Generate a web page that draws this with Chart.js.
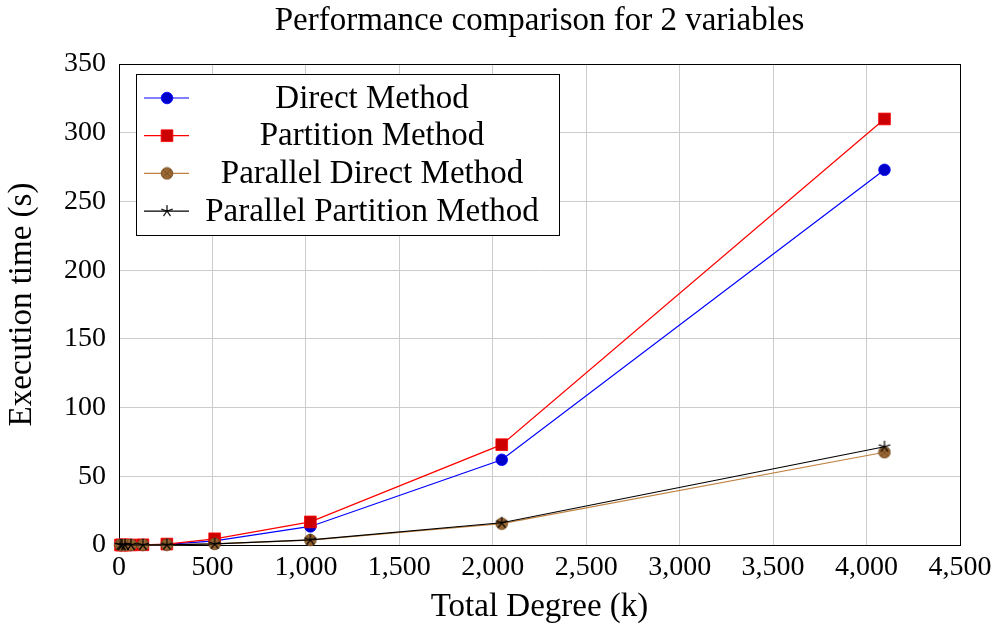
<!DOCTYPE html>
<html>
<head>
<meta charset="utf-8">
<title>Performance comparison for 2 variables</title>
<script src="https://cdn.jsdelivr.net/npm/chart.js@4/dist/chart.umd.min.js"></script>
<style>
  body { margin: 0; background: #fff; }
  #wrap { width: 998px; height: 627px; }
</style>
</head>
<body>
<div id="wrap"><canvas id="myChart" width="998" height="627"></canvas></div>
<script>
// total degree k
const degrees = [8, 16, 32, 64, 128, 256, 512, 1024, 2048, 4096];
// execution times in seconds
const directTimes = [0, 0, 0.01, 0.03, 0.1, 0.5, 3, 13.5, 62, 273];
const partitionTimes = [0, 0, 0.01, 0.04, 0.15, 0.7, 4.5, 16.8, 73, 310];
const parallelDirectTimes = [0, 0, 0, 0.01, 0.03, 0.15, 0.8, 3.6, 15.5, 67.5];
const parallelPartitionTimes = [0, 0, 0, 0.01, 0.03, 0.15, 0.8, 3.8, 16.2, 71.5];
const seriesNames = ['Direct Method', 'Partition Method', 'Parallel Direct Method', 'Parallel Partition Method'];
const chartTitle = 'Performance comparison for 2 variables';

const FONT = '"Liberation Serif", "DejaVu Serif", serif';
const TEXT_SIZE = 33;

// circle with an x through it, brown fill
function otimesMarker() {
    const c = document.createElement('canvas');
    c.width = 14; c.height = 14;
    const g = c.getContext('2d');
    g.beginPath();
    g.arc(7, 7, 5.8, 0, Math.PI * 2);
    g.fillStyle = '#996633';
    g.fill();
    g.lineWidth = 1;
    g.strokeStyle = '#7a5226';
    g.stroke();
    g.beginPath();
    const d = 5.8 * Math.SQRT1_2;
    g.moveTo(7 - d, 7 - d); g.lineTo(7 + d, 7 + d);
    g.moveTo(7 + d, 7 - d); g.lineTo(7 - d, 7 + d);
    g.stroke();
    return c;
}

// five armed asterisk
function starMarker() {
    const c = document.createElement('canvas');
    c.width = 14; c.height = 14;
    const g = c.getContext('2d');
    g.strokeStyle = '#000';
    g.lineWidth = 1.2;
    g.beginPath();
    for (let i = 0; i < 5; i++) {
        const a = -Math.PI / 2 + i * 2 * Math.PI / 5;
        g.moveTo(7, 7);
        g.lineTo(7 + 6 * Math.cos(a), 7 + 6 * Math.sin(a));
    }
    g.stroke();
    return c;
}

function toPoints(ys) {
    return degrees.map((x, i) => ({x: x, y: ys[i]}));
}

// frame around the plot area, title centred over it
const framePlugin = {
    id: 'frame',
    beforeDatasetsDraw(chart) {
        const {ctx, chartArea: a} = chart;
        ctx.save();
        ctx.strokeStyle = '#000';
        ctx.lineWidth = 1;
        ctx.strokeRect(Math.round(a.left) + 0.5, Math.round(a.top) + 0.5,
            Math.round(a.right - a.left), Math.round(a.bottom - a.top));
        ctx.fillStyle = '#000';
        ctx.font = TEXT_SIZE + 'px ' + FONT;
        ctx.textAlign = 'center';
        ctx.textBaseline = 'middle';
        ctx.fillText(chartTitle, (a.left + a.right) / 2, 21);
        ctx.restore();
    }
};

// boxed legend with line + marker samples
const boxLegend = {
    id: 'boxLegend',
    afterDraw(chart) {
        const {ctx, chartArea: a} = chart;
        const left = a.left + 17, top = a.top + 10;
        const w = 423, rowH = 37.7, h = 161;
        ctx.save();
        ctx.fillStyle = '#fff';
        ctx.fillRect(left, top, w, h);
        ctx.strokeStyle = '#000';
        ctx.lineWidth = 1;
        ctx.strokeRect(Math.round(left) + 0.5, Math.round(top) + 0.5, w, h);
        ctx.font = TEXT_SIZE + 'px ' + FONT;
        ctx.textAlign = 'center';
        ctx.textBaseline = 'middle';
        chart.data.datasets.forEach((ds, i) => {
            const y = top + 24 + i * rowH;
            ctx.strokeStyle = ds.borderColor;
            ctx.lineWidth = ds.borderWidth;
            ctx.beginPath();
            ctx.moveTo(left + 8, y);
            ctx.lineTo(left + 53, y);
            ctx.stroke();
            if (typeof ds.pointStyle === 'string') {
                ctx.fillStyle = ds.pointBackgroundColor;
                ctx.strokeStyle = ds.pointBorderColor;
                ctx.lineWidth = ds.pointBorderWidth;
            }
            Chart.helpers.drawPoint(ctx, {
                pointStyle: ds.pointStyle,
                radius: ds.pointRadius,
                borderWidth: ds.pointBorderWidth || 0,
                rotation: 0
            }, left + 31, y);
            ctx.fillStyle = '#000';
            ctx.fillText(ds.label, left + 236, y + 1);
        });
        ctx.restore();
    }
};

const ctx = document.getElementById('myChart').getContext('2d');
const chart = new Chart(ctx, {
    type: 'line',
    data: {
        datasets: [
            {
                label: seriesNames[0],
                data: toPoints(directTimes),
                borderColor: '#0000ff',
                borderWidth: 1.2,
                pointStyle: 'circle',
                pointRadius: 5.8,
                pointBackgroundColor: '#0000cc',
                pointBorderColor: '#0000ff',
                pointBorderWidth: 0.8,
                clip: false,
                order: 4
            },
            {
                label: seriesNames[1],
                data: toPoints(partitionTimes),
                borderColor: '#ff0000',
                borderWidth: 1.2,
                pointStyle: 'rect',
                pointRadius: 8.3,
                pointBackgroundColor: '#cc0000',
                pointBorderColor: '#ff0000',
                pointBorderWidth: 0.8,
                clip: false,
                order: 3
            },
            {
                label: seriesNames[2],
                data: toPoints(parallelDirectTimes),
                borderColor: '#bf8040',
                borderWidth: 1.2,
                pointStyle: otimesMarker(),
                pointRadius: 6,
                clip: false,
                order: 2
            },
            {
                label: seriesNames[3],
                data: toPoints(parallelPartitionTimes),
                borderColor: '#000000',
                borderWidth: 1.2,
                pointStyle: starMarker(),
                pointRadius: 6,
                clip: false,
                order: 1
            }
        ]
    },
    options: {
        responsive: false,
        animation: false,
        layout: { padding: { left: 0, right: 38, top: 64, bottom: 0 } },
        plugins: {
            legend: { display: false },
            tooltip: { enabled: false },
            title: { display: false }
        },
        scales: {
            x: {
                type: 'linear',
                min: 0,
                max: 4500,
                border: { display: false },
                grid: { color: '#cccccc', lineWidth: 1, drawTicks: false },
                ticks: {
                    stepSize: 500,
                    color: '#000',
                    padding: 6,
                    maxRotation: 0,
                    font: { family: FONT, size: 28 },
                    callback: (v) => v.toLocaleString('en-US')
                },
                title: {
                    display: true,
                    text: 'Total Degree (k)',
                    color: '#000',
                    font: { family: FONT, size: TEXT_SIZE },
                    padding: { top: 0, bottom: 0 }
                },
                afterFit(scale) { scale.height = 82; }
            },
            y: {
                type: 'linear',
                min: 0,
                max: 350,
                border: { display: false },
                grid: { color: '#cccccc', lineWidth: 1, drawTicks: false },
                ticks: {
                    stepSize: 50,
                    color: '#000',
                    padding: 13,
                    font: { family: FONT, size: 28 }
                },
                title: {
                    display: true,
                    text: 'Execution time (s)',
                    color: '#000',
                    font: { family: FONT, size: TEXT_SIZE },
                    padding: { top: 2.2, bottom: 0 }
                },
                afterFit(scale) { scale.width = 119; }
            }
        }
    },
    plugins: [framePlugin, boxLegend]
});
</script>
</body>
</html>
